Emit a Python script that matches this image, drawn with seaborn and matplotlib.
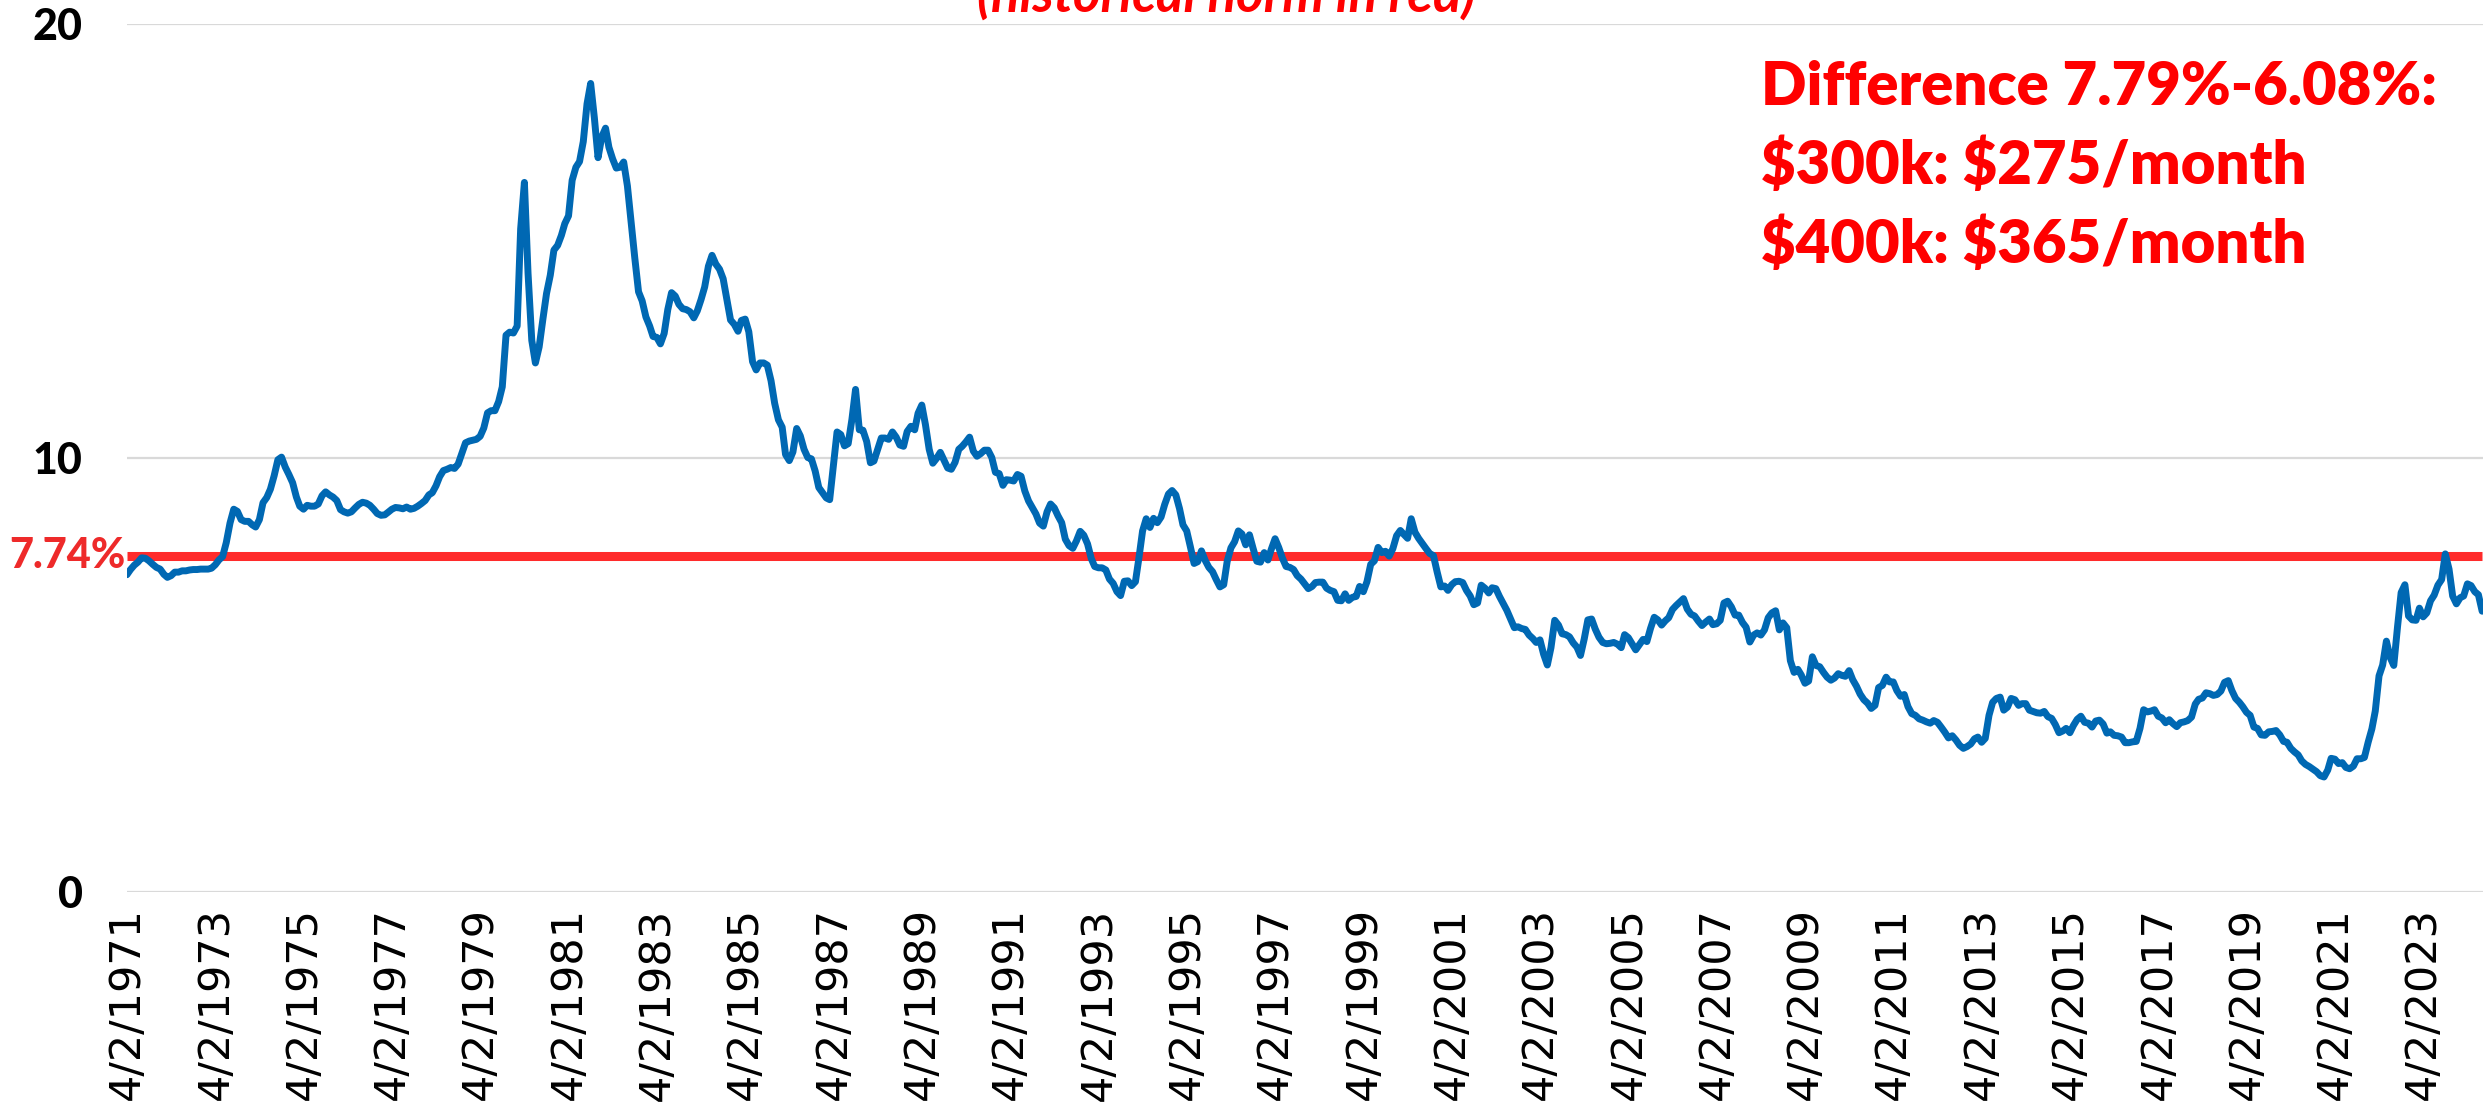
import numpy as np
import pandas as pd
import matplotlib
matplotlib.use("Agg")
import matplotlib.pyplot as plt
import seaborn as sns

# 30-year fixed mortgage rate, monthly readings (Apr 1971 - Aug 2024)
rates_1970s = [
    7.31, 7.43, 7.53, 7.60, 7.70, 7.69, 7.63, 7.55, 7.48,
    7.44, 7.32, 7.25, 7.29, 7.37, 7.37, 7.40, 7.40, 7.42, 7.43, 7.43, 7.44,
    7.44, 7.44, 7.46, 7.54, 7.65, 7.73, 8.05, 8.50, 8.82, 8.77, 8.58, 8.54,
    8.54, 8.46, 8.41, 8.58, 8.97, 9.09, 9.28, 9.59, 9.96, 10.02, 9.79, 9.62,
    9.43, 9.10, 8.89, 8.82, 8.91, 8.89, 8.89, 8.94, 9.13, 9.22, 9.15, 9.10,
    9.02, 8.81, 8.76, 8.73, 8.76, 8.85, 8.93, 8.98, 8.96, 8.91, 8.82, 8.72,
    8.68, 8.69, 8.75, 8.82, 8.86, 8.85, 8.83, 8.87, 8.82, 8.84, 8.89, 8.95,
    9.02, 9.15, 9.20, 9.36, 9.57, 9.71, 9.74, 9.78, 9.76, 9.86, 10.11, 10.35,
    10.39, 10.41, 10.43, 10.50, 10.69, 11.04, 11.09, 11.09, 11.30, 11.64, 12.83, 12.90,
]
rates_1980s = [
    12.88, 13.04, 15.28, 16.35, 14.26, 12.71, 12.19, 12.56, 13.20, 13.79, 14.21, 14.79,
    14.90, 15.13, 15.40, 15.58, 16.40, 16.70, 16.83, 17.29, 18.16, 18.63, 17.83, 16.92,
    17.40, 17.60, 17.16, 16.89, 16.68, 16.70, 16.82, 16.27, 15.43, 14.61, 13.83, 13.62,
    13.25, 13.04, 12.80, 12.78, 12.63, 12.87, 13.42, 13.81, 13.73, 13.54, 13.44, 13.42,
    13.37, 13.23, 13.39, 13.65, 13.94, 14.42, 14.67, 14.47, 14.35, 14.13, 13.64, 13.18,
    13.08, 12.92, 13.17, 13.20, 12.91, 12.22, 12.03, 12.19, 12.19, 12.14, 11.78, 11.26,
    10.88, 10.71, 10.08, 9.94, 10.14, 10.68, 10.51, 10.20, 10.01, 9.98, 9.70, 9.32,
    9.20, 9.08, 9.04, 9.83, 10.60, 10.54, 10.28, 10.33, 10.89, 11.58, 10.65, 10.64,
    10.38, 9.89, 9.93, 10.20, 10.46, 10.46, 10.43, 10.60, 10.48, 10.30, 10.27, 10.61,
    10.73, 10.65, 11.03, 11.22, 10.77, 10.20, 9.88, 9.99, 10.13, 9.95, 9.77, 9.74,
]
rates_1990s = [
    9.90, 10.20, 10.27, 10.37, 10.48, 10.16, 10.04, 10.10, 10.18, 10.18, 10.01, 9.67,
    9.64, 9.37, 9.50, 9.49, 9.47, 9.62, 9.58, 9.24, 9.01, 8.86, 8.71, 8.50,
    8.43, 8.76, 8.94, 8.85, 8.67, 8.51, 8.13, 7.98, 7.92, 8.09, 8.31, 8.22,
    8.02, 7.68, 7.50, 7.47, 7.47, 7.42, 7.21, 7.11, 6.92, 6.83, 7.16, 7.17,
    7.06, 7.15, 7.68, 8.32, 8.60, 8.40, 8.61, 8.51, 8.64, 8.93, 9.17, 9.25,
    9.15, 8.83, 8.46, 8.32, 7.96, 7.57, 7.61, 7.86, 7.64, 7.48, 7.38, 7.20,
    7.03, 7.08, 7.62, 7.93, 8.07, 8.32, 8.25, 8.00, 8.23, 7.92, 7.62, 7.60,
    7.82, 7.65, 7.90, 8.14, 7.94, 7.69, 7.50, 7.48, 7.43, 7.29, 7.21, 7.10,
    6.99, 7.04, 7.13, 7.14, 7.14, 7.00, 6.95, 6.92, 6.72, 6.71, 6.87, 6.72,
    6.79, 6.81, 7.04, 6.92, 7.15, 7.55, 7.63, 7.94, 7.82, 7.85, 7.74, 7.91,
]
rates_2000s = [
    8.21, 8.33, 8.24, 8.15, 8.60, 8.29, 8.15, 8.03, 7.91, 7.80, 7.75, 7.38,
    7.03, 7.05, 6.95, 7.08, 7.15, 7.16, 7.13, 6.95, 6.82, 6.62, 6.66, 7.07,
    7.00, 6.89, 7.01, 6.99, 6.81, 6.65, 6.49, 6.29, 6.09, 6.11, 6.07, 6.05,
    5.92, 5.84, 5.75, 5.81, 5.48, 5.23, 5.63, 6.26, 6.15, 5.95, 5.93, 5.88,
    5.74, 5.64, 5.45, 5.83, 6.27, 6.29, 6.06, 5.87, 5.75, 5.72, 5.73, 5.75,
    5.71, 5.63, 5.93, 5.86, 5.72, 5.58, 5.70, 5.82, 5.77, 6.07, 6.33, 6.27,
    6.15, 6.25, 6.32, 6.51, 6.60, 6.68, 6.76, 6.52, 6.40, 6.36, 6.24, 6.14,
    6.22, 6.29, 6.16, 6.18, 6.26, 6.66, 6.70, 6.57, 6.38, 6.38, 6.21, 6.10,
    5.76, 5.92, 5.97, 5.92, 6.04, 6.32, 6.43, 6.48, 6.04, 6.20, 6.09, 5.33,
    5.06, 5.13, 5.00, 4.81, 4.86, 5.42, 5.22, 5.19, 5.06, 4.95, 4.88, 4.93,
]
rates_2010s = [
    5.03, 4.99, 4.97, 5.10, 4.89, 4.74, 4.56, 4.43, 4.35, 4.23, 4.30, 4.71,
    4.76, 4.95, 4.84, 4.84, 4.64, 4.51, 4.55, 4.27, 4.11, 4.07, 3.99, 3.96,
    3.92, 3.89, 3.95, 3.91, 3.80, 3.68, 3.55, 3.60, 3.50, 3.38, 3.31, 3.35,
    3.41, 3.53, 3.57, 3.45, 3.54, 4.07, 4.37, 4.46, 4.49, 4.19, 4.26, 4.46,
    4.43, 4.30, 4.34, 4.34, 4.19, 4.16, 4.13, 4.12, 4.16, 4.04, 4.00, 3.86,
    3.67, 3.71, 3.77, 3.67, 3.84, 3.98, 4.05, 3.91, 3.89, 3.80, 3.94, 3.96,
    3.87, 3.66, 3.69, 3.61, 3.60, 3.57, 3.44, 3.44, 3.46, 3.47, 3.77, 4.20,
    4.15, 4.17, 4.20, 4.05, 4.01, 3.90, 3.97, 3.88, 3.81, 3.90, 3.92, 3.95,
    4.03, 4.33, 4.44, 4.47, 4.59, 4.57, 4.53, 4.55, 4.63, 4.83, 4.87, 4.64,
    4.46, 4.37, 4.27, 4.14, 4.07, 3.80, 3.77, 3.62, 3.61, 3.69, 3.70, 3.72,
]
rates_2020s = [
    3.62, 3.47, 3.45, 3.31, 3.23, 3.16, 3.02, 2.94, 2.89, 2.83, 2.77, 2.68,
    2.65, 2.81, 3.08, 3.06, 2.96, 2.98, 2.87, 2.84, 2.90, 3.07, 3.07, 3.10,
    3.45, 3.76, 4.17, 4.98, 5.23, 5.78, 5.41, 5.22, 6.11, 6.90, 7.08, 6.36,
    6.27, 6.26, 6.54, 6.34, 6.43, 6.71, 6.84, 7.07, 7.20, 7.79, 7.44, 6.82,
    6.64, 6.78, 6.82, 7.10, 7.06, 6.92, 6.85, 6.47,
]
norm_rate = 7.74
tick_years = list(range(1971, 2024, 2))
note_lines = ["Difference 7.79%-6.08%:", "$300k: $275/month", "$400k: $365/month"]
subtitle = "(historical norm in red)"

rates = rates_1970s + rates_1980s + rates_1990s + rates_2000s + rates_2010s + rates_2020s
dates = pd.date_range("1971-04-01", periods=len(rates), freq="MS")
df = pd.DataFrame({"date": dates, "rate": rates})

sns.set_theme(style="white")
plt.rcParams["font.family"] = ["DejaVu Sans"]
bold_font = ["Lato", "DejaVu Sans"]

W, H = 2483, 1110
fig = plt.figure(figsize=(W / 100, H / 100), dpi=100)
ax = fig.add_axes([127 / W, 1 - 892 / H, (W - 127) / W, (892 - 24) / H])

ax.yaxis.grid(True, color="#D9D9D9", linewidth=1.6)
ax.set_axisbelow(True)
ax.hlines(norm_rate, df["date"].iloc[0], df["date"].iloc[-1], color="#FF2B2B",
          linewidth=6.5, zorder=2)
sns.lineplot(data=df, x="date", y="rate", color="#0068B3", linewidth=5, ax=ax, zorder=3)

ax.set_xlim(pd.Timestamp("1971-04-02"), pd.Timestamp("2024-08-08"))
ax.set_ylim(0, 20)
ax.set_yticks([0, 10, 20])
ax.set_yticklabels(["0", "10", "20"], fontsize=31, fontweight="black", family=bold_font)
ticks = [pd.Timestamp(f"{y}-04-02") for y in tick_years]
ax.set_xticks(ticks)
ax.set_xticklabels([f"4/2/{y}" for y in tick_years], rotation=90, fontsize=31)
ax.tick_params(axis="y", length=0, pad=32, labelcolor="black")
ax.tick_params(axis="x", length=0, pad=11, labelcolor="black")
ax.set_xlabel("")
ax.set_ylabel("")
for s in ax.spines.values():
    s.set_visible(False)

ax.text(-0.0005, norm_rate, "7.74%", transform=ax.get_yaxis_transform(), ha="right", va="center",
        color="#EE2A2A", fontsize=30, fontweight="black", family=bold_font)

for i, line in enumerate(note_lines):
    fig.text(1761 / W, 1 - (105 + 79 * i) / H, line, ha="left", va="baseline", color="#FF0000",
             fontsize=43, fontweight="heavy", family=bold_font, parse_math=False)

fig.text(1226 / W, 1 - 12 / H, subtitle, ha="center", va="baseline", color="#FF0000",
         fontsize=38, fontweight="bold", fontstyle="italic", family=bold_font)

fig.savefig("out.png", dpi=100)
